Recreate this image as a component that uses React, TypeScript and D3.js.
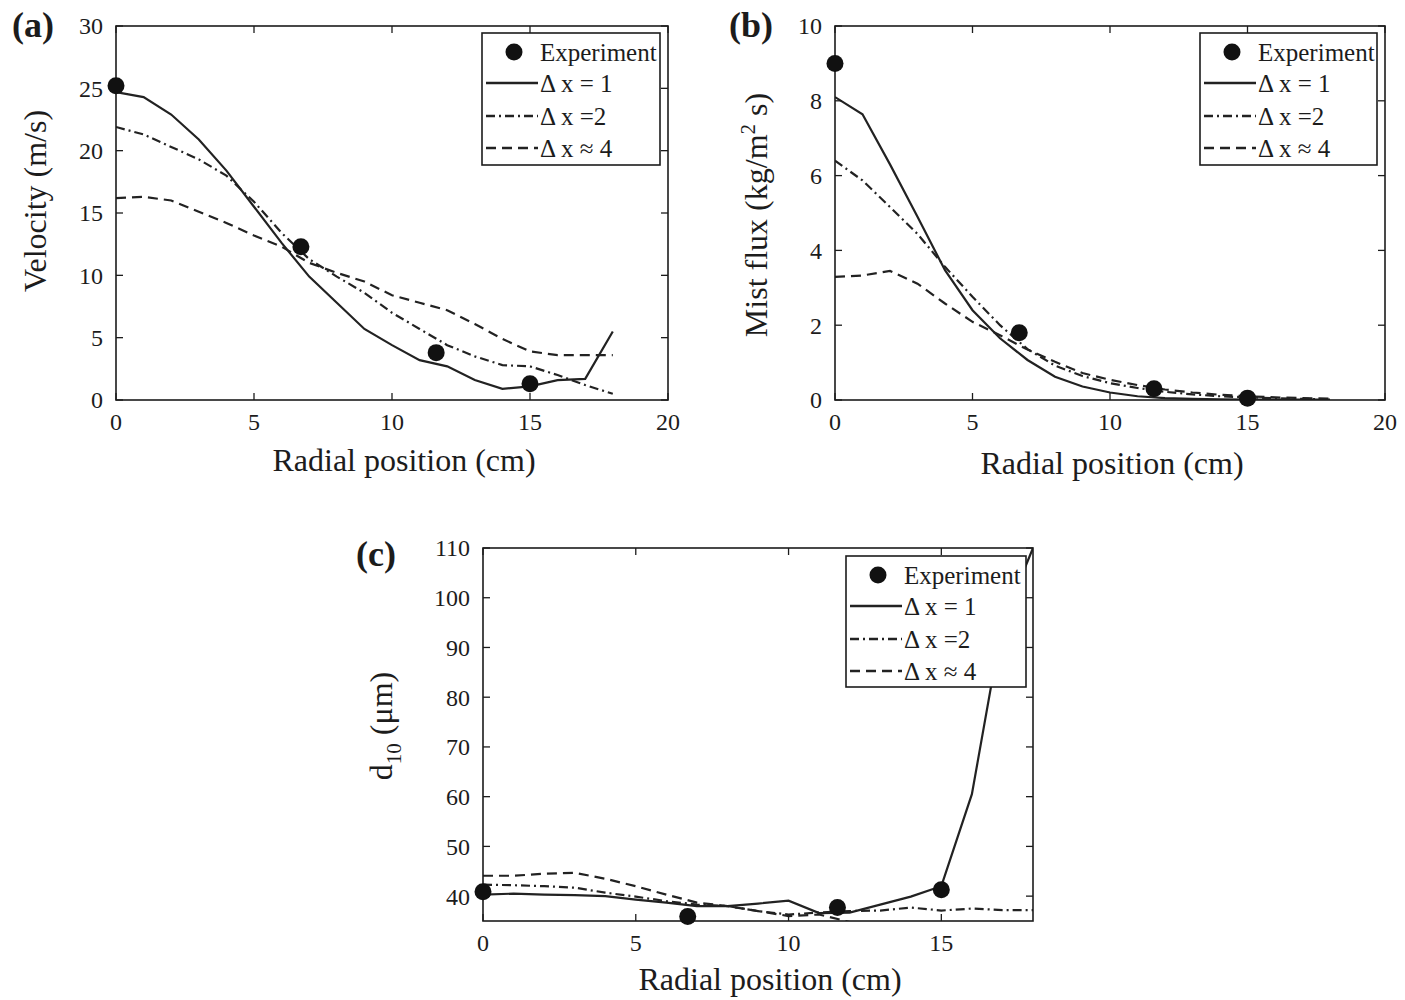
import React from "react";
import * as d3 from "d3";

// ---------- data ----------
const radialPos = [0, 1, 2, 3, 4, 5, 6, 7, 8, 9, 10, 11, 12, 13, 14, 15, 16, 17, 18];

const velocityDx1 = [24.7, 24.3, 22.9, 20.9, 18.4, 15.5, 12.6, 9.9, 7.8, 5.7, 4.4, 3.2, 2.7, 1.6, 0.9, 1.1, 1.6, 1.7, 5.5];
const velocityDx2 = [21.9, 21.3, 20.3, 19.3, 18.0, 15.9, 13.4, 11.3, 9.9, 8.6, 7.0, 5.7, 4.4, 3.5, 2.8, 2.7, 2.0, 1.2, 0.5];
const velocityDx4 = [16.2, 16.3, 16.0, 15.1, 14.2, 13.2, 12.3, 11.0, 10.2, 9.5, 8.4, 7.8, 7.2, 6.1, 4.9, 3.9, 3.6, 3.6, 3.6];

const fluxDx1 = [8.1, 7.64, 6.3, 4.9, 3.47, 2.4, 1.65, 1.07, 0.62, 0.36, 0.2, 0.1, 0.05, 0.03, 0.02, 0.01, 0.01, 0.01, 0.01];
const fluxDx2 = [6.4, 5.87, 5.16, 4.44, 3.56, 2.76, 2.0, 1.36, 0.92, 0.64, 0.45, 0.32, 0.22, 0.15, 0.1, 0.07, 0.05, 0.03, 0.02];
const fluxDx4 = [3.29, 3.33, 3.45, 3.11, 2.58, 2.09, 1.73, 1.35, 1.02, 0.72, 0.54, 0.4, 0.28, 0.2, 0.14, 0.1, 0.07, 0.05, 0.04];

const d10Dx1 = [40.3, 40.5, 40.3, 40.2, 40.0, 39.3, 38.7, 38.0, 38.0, 38.5, 39.1, 36.6, 36.7, 38.3, 39.9, 42.0, 60.5, 95.0, 110.0];
const d10Dx2 = [42.3, 42.2, 42.0, 41.7, 40.7, 39.9, 39.0, 38.3, 38.0, 37.0, 36.3, 36.7, 37.0, 37.1, 37.7, 37.1, 37.5, 37.2, 37.2];
const d10Dx4 = [44.1, 44.1, 44.5, 44.7, 43.5, 42.0, 40.3, 38.7, 38.0, 37.0, 36.0, 36.3, 34.8, 33.0];

const expRadial = [0, 6.7, 11.6, 15];
const expVelocity = [25.2, 12.3, 3.8, 1.3];
const expFlux = [9.0, 1.8, 0.3, 0.05];
const expD10 = [40.9, 35.9, 37.7, 41.3];

const legendLabels = ["Experiment", "Δ x = 1", "Δ x =2", "Δ x ≈ 4"];
const xTicksAB = [0, 5, 10, 15, 20];
const xTicksC = [0, 5, 10, 15];
const velocityTicks = [0, 5, 10, 15, 20, 25, 30];
const fluxTicks = [0, 2, 4, 6, 8, 10];
const d10Ticks = [40, 50, 60, 70, 80, 90, 100, 110];

// ---------- styling ----------
const FONT = "'Liberation Serif', 'Times New Roman', serif";
const INK = "#1c1c1c";
const LINE = "#222";
const dashes = ["", "9,4,2,4", "10,6"];

type PanelProps = {
  id: string;
  left: number; right: number; top: number; bottom: number;
  xDomain: [number, number]; yDomain: [number, number];
  xTicks: number[]; xTickLabels: number[]; yTicks: number[];
  series: number[][];
  exp: number[];
  panelLabel: string; labelX: number; labelY: number;
  yTitle: React.ReactNode; yTitleX: number; yTitleY: number;
  xTitleX: number; xTitleY: number;
  legend: { x: number; y: number; w: number; h: number };
};

function Panel(p: PanelProps) {
  const x = d3.scaleLinear().domain(p.xDomain).range([p.left, p.right]);
  const y = d3.scaleLinear().domain(p.yDomain).range([p.bottom, p.top]);
  const tickLen = 7;
  const clipId = `clip-${p.id}`;
  const lineGen = d3.line<[number, number]>().x((d) => x(d[0])).y((d) => y(d[1]));
  const rowOffsets = [19, 50, 83, 115];
  return (
    <g>
      <defs>
        <clipPath id={clipId}>
          <rect x={p.left} y={p.top} width={p.right - p.left} height={p.bottom - p.top} />
        </clipPath>
      </defs>
      <g clipPath={`url(#${clipId})`}>
        {p.series.map((vals, i) => (
          <path
            key={i}
            d={lineGen(vals.map((v, j) => [radialPos[j], v] as [number, number])) || ""}
            fill="none"
            stroke={LINE}
            strokeWidth={2.2}
            strokeDasharray={dashes[i] || undefined}
          />
        ))}
      </g>
      <rect x={p.left} y={p.top} width={p.right - p.left} height={p.bottom - p.top} fill="none" stroke={INK} strokeWidth={1.6} />
      {p.xTicks.map((t) => (
        <g key={`xt${t}`}>
          <line x1={x(t)} x2={x(t)} y1={p.bottom} y2={p.bottom - tickLen} stroke={INK} strokeWidth={1.3} />
          <line x1={x(t)} x2={x(t)} y1={p.top} y2={p.top + tickLen} stroke={INK} strokeWidth={1.3} />
        </g>
      ))}
      {p.xTickLabels.map((t) => (
        <text key={`xl${t}`} x={x(t)} y={p.bottom + 30} textAnchor="middle" fontSize={24} fontFamily={FONT} fill={INK}>
          {t}
        </text>
      ))}
      {p.yTicks.map((t) => (
        <g key={`yt${t}`}>
          <line x1={p.left} x2={p.left + tickLen} y1={y(t)} y2={y(t)} stroke={INK} strokeWidth={1.3} />
          <line x1={p.right} x2={p.right - tickLen} y1={y(t)} y2={y(t)} stroke={INK} strokeWidth={1.3} />
          <text x={p.left - 13} y={y(t)} dy="0.35em" textAnchor="end" fontSize={24} fontFamily={FONT} fill={INK}>
            {t}
          </text>
        </g>
      ))}
      {p.exp.map((v, i) => (
        <circle key={`e${i}`} cx={x(expRadial[i])} cy={y(v)} r={8.5} fill="#111" />
      ))}
      <text x={p.xTitleX} y={p.xTitleY} textAnchor="middle" fontSize={32} fontFamily={FONT} fill={INK}>
        Radial position (cm)
      </text>
      <text
        transform={`translate(${p.yTitleX},${p.yTitleY}) rotate(-90)`}
        textAnchor="middle"
        fontSize={32}
        fontFamily={FONT}
        fill={INK}
      >
        {p.yTitle}
      </text>
      <text x={p.labelX} y={p.labelY} fontSize={36} fontWeight="bold" fontFamily={FONT} fill={INK}>
        {p.panelLabel}
      </text>
      <g>
        <rect x={p.legend.x} y={p.legend.y} width={p.legend.w} height={p.legend.h} fill="#fff" stroke={INK} strokeWidth={1.6} />
        {legendLabels.map((lab, i) => {
          const ry = p.legend.y + rowOffsets[i];
          return (
            <g key={lab}>
              {i === 0 ? (
                <circle cx={p.legend.x + 32} cy={ry} r={8.5} fill="#111" />
              ) : (
                <line
                  x1={p.legend.x + 4}
                  x2={p.legend.x + 56}
                  y1={ry}
                  y2={ry}
                  stroke={LINE}
                  strokeWidth={2.6}
                  strokeDasharray={dashes[i - 1] || undefined}
                />
              )}
              <text x={p.legend.x + 58} y={ry} dy="0.35em" fontSize={25} fontFamily={FONT} fill={INK}>
                {lab}
              </text>
            </g>
          );
        })}
      </g>
    </g>
  );
}

export default function App() {
  return (
    <svg width={1405} height={1000} style={{ position: "absolute", left: 0, top: 0, background: "#fff" }}>
      <rect x={0} y={0} width={1405} height={1000} fill="#fff" />
      <Panel
        id="a"
        left={116} right={668} top={26} bottom={400}
        xDomain={[0, 20]} yDomain={[0, 30]}
        xTicks={xTicksAB} xTickLabels={xTicksAB} yTicks={velocityTicks}
        series={[velocityDx1, velocityDx2, velocityDx4]}
        exp={expVelocity}
        panelLabel="(a)" labelX={12} labelY={37}
        yTitle="Velocity (m/s)" yTitleX={46} yTitleY={201}
        xTitleX={404} xTitleY={471}
        legend={{ x: 482, y: 33, w: 178, h: 132 }}
      />
      <Panel
        id="b"
        left={835} right={1385} top={26} bottom={400}
        xDomain={[0, 20]} yDomain={[0, 10]}
        xTicks={xTicksAB} xTickLabels={xTicksAB} yTicks={fluxTicks}
        series={[fluxDx1, fluxDx2, fluxDx4]}
        exp={expFlux}
        panelLabel="(b)" labelX={729} labelY={37}
        yTitle={
          <>
            Mist flux (kg/m
            <tspan dy={-12} fontSize={21}>2</tspan>
            <tspan dy={12}> s)</tspan>
          </>
        }
        yTitleX={767} yTitleY={215}
        xTitleX={1112} xTitleY={474}
        legend={{ x: 1200, y: 33, w: 177, h: 132 }}
      />
      <Panel
        id="c"
        left={483} right={1033} top={548} bottom={921}
        xDomain={[0, 18]} yDomain={[35, 110]}
        xTicks={xTicksC} xTickLabels={xTicksC} yTicks={d10Ticks}
        series={[d10Dx1, d10Dx2, d10Dx4]}
        exp={expD10}
        panelLabel="(c)" labelX={356} labelY={566}
        yTitle={
          <>
            d
            <tspan dy={9} fontSize={21}>10</tspan>
            <tspan dy={-9}> (μm)</tspan>
          </>
        }
        yTitleX={392} yTitleY={726}
        xTitleX={770} xTitleY={990}
        legend={{ x: 846, y: 556, w: 180, h: 131 }}
      />
    </svg>
  );
}
